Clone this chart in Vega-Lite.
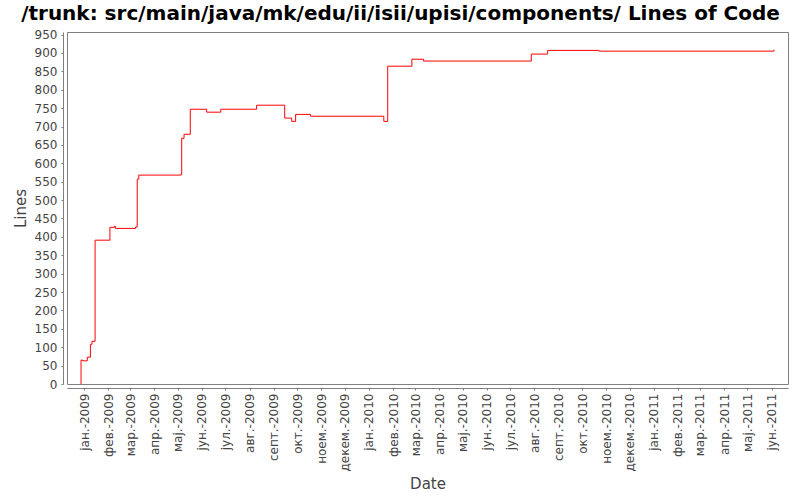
{
  "$schema": "https://vega.github.io/schema/vega-lite/v6.json",
  "description": "Lines of code step chart",
  "width": 721,
  "height": 352,
  "autosize": "none",
  "padding": {"left": 67, "top": 32, "right": 12, "bottom": 116},
  "background": "white",
  "title": {
    "text": "/trunk: src/main/java/mk/edu/ii/isii/upisi/components/ Lines of Code",
    "font": "DejaVu Sans",
    "fontSize": 20,
    "fontWeight": "bold",
    "color": "black",
    "anchor": "middle",
    "dx": -27,
    "offset": 5
  },
  "config": {
    "view": {"stroke": "#808080", "strokeWidth": 1},
    "axis": {
      "labelFont": "DejaVu Sans",
      "labelFontSize": 12,
      "labelColor": "#444444",
      "titleFont": "DejaVu Sans",
      "titleFontSize": 15,
      "titleFontWeight": "normal",
      "titleColor": "#444444",
      "domainColor": "#808080",
      "tickColor": "#808080",
      "tickSize": 2,
      "offset": 4,
      "grid": false
    }
  },
  "data": {
    "values": [
      {"Date": "2008-12-28", "Lines": 0},
      {"Date": "2008-12-28", "Lines": 65},
      {"Date": "2008-12-30", "Lines": 63},
      {"Date": "2009-01-05", "Lines": 73},
      {"Date": "2009-01-09", "Lines": 108},
      {"Date": "2009-01-11", "Lines": 116},
      {"Date": "2009-01-15", "Lines": 391},
      {"Date": "2009-02-03", "Lines": 426},
      {"Date": "2009-02-09", "Lines": 429},
      {"Date": "2009-02-10", "Lines": 423},
      {"Date": "2009-03-08", "Lines": 427},
      {"Date": "2009-03-10", "Lines": 557},
      {"Date": "2009-03-12", "Lines": 568},
      {"Date": "2009-05-05", "Lines": 570},
      {"Date": "2009-05-06", "Lines": 668},
      {"Date": "2009-05-09", "Lines": 679},
      {"Date": "2009-05-17", "Lines": 747},
      {"Date": "2009-06-07", "Lines": 739},
      {"Date": "2009-06-25", "Lines": 747},
      {"Date": "2009-08-10", "Lines": 758},
      {"Date": "2009-09-15", "Lines": 723},
      {"Date": "2009-09-24", "Lines": 714},
      {"Date": "2009-09-29", "Lines": 733},
      {"Date": "2009-10-18", "Lines": 728},
      {"Date": "2010-01-20", "Lines": 714},
      {"Date": "2010-01-25", "Lines": 864},
      {"Date": "2010-02-25", "Lines": 883},
      {"Date": "2010-03-12", "Lines": 878},
      {"Date": "2010-07-28", "Lines": 897},
      {"Date": "2010-08-18", "Lines": 907},
      {"Date": "2010-10-23", "Lines": 905},
      {"Date": "2011-06-04", "Lines": 909}
    ]
  },
  "mark": {"type": "line", "interpolate": "step-after", "color": "#ff0000", "strokeWidth": 1},
  "encoding": {
    "x": {
      "field": "Date",
      "type": "temporal",
      "title": "Date",
      "scale": {
        "type": "utc",
        "nice": false,
        "domain": [
          {"year": 2008, "month": 12, "date": 10, "utc": true},
          {"year": 2011, "month": 6, "date": 22, "utc": true}
        ]
      },
      "axis": {
        "tickCount": {"interval": "month", "step": 1},
        "labelAngle": -90,
        "labelAlign": "right",
        "labelBaseline": "middle",
        "labelPadding": 3,
        "labelExpr": "['јан.','фев.','мар.','апр.','мај.','јун.','јул.','авг.','септ.','окт.','ноем.','декем.'][utcmonth(datum.value)] + '-' + utcyear(datum.value)",
        "labelOverlap": false,
        "labelFlush": false,
        "titlePadding": 5
      }
    },
    "y": {
      "field": "Lines",
      "type": "quantitative",
      "title": "Lines",
      "scale": {"domain": [0, 957], "nice": false, "zero": true},
      "axis": {
        "values": [0, 50, 100, 150, 200, 250, 300, 350, 400, 450, 500, 550, 600, 650, 700, 750, 800, 850, 900, 950],
        "labelPadding": 4,
        "titlePadding": 6
      }
    }
  }
}
